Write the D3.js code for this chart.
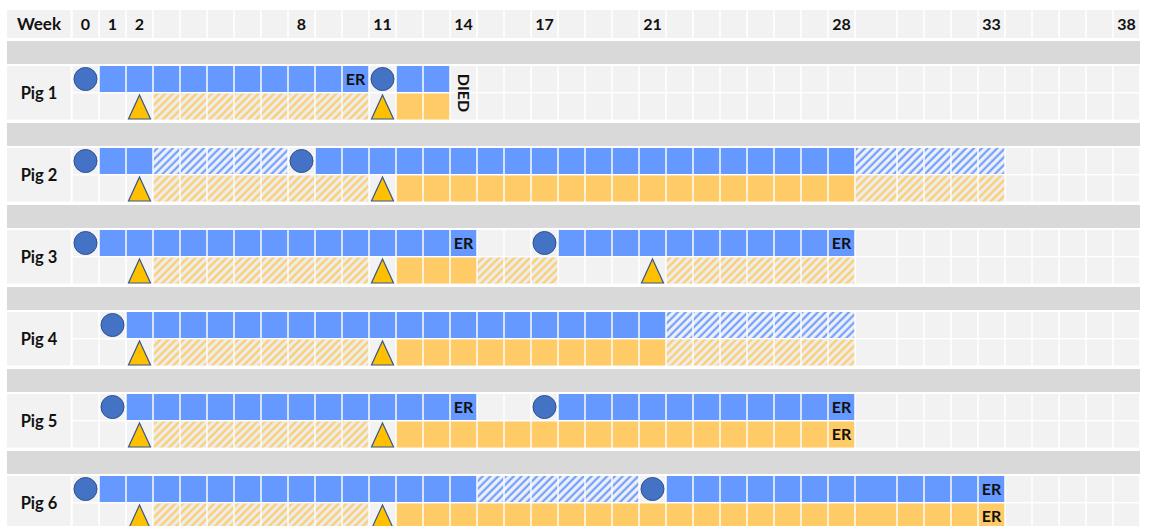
<!DOCTYPE html>
<html lang="en">
<head>
<meta charset="UTF-8">
<title>Pig timeline</title>
<script src="https://d3js.org/d3.v7.min.js"></script>
<style>
  body { margin: 0; background: #fff; }
  svg text { font-family: Lato, "Open Sans", sans-serif; font-weight: bold; fill: #111; }
</style>
</head>
<body>
<div id="chart"></div>
<script>
const pigs = ["Pig 1", "Pig 2", "Pig 3", "Pig 4", "Pig 5", "Pig 6"];
const lastWeek = 38;
const weekTicks = [0, 1, 2, 8, 11, 14, 17, 21, 28, 33, 38];

// [pig, first week, last week]
const blueSolid = [
  ["Pig 1", 1, 10], ["Pig 1", 12, 13],
  ["Pig 2", 1, 2], ["Pig 2", 9, 28],
  ["Pig 3", 1, 14], ["Pig 3", 18, 28],
  ["Pig 4", 2, 21],
  ["Pig 5", 2, 14], ["Pig 5", 18, 28],
  ["Pig 6", 1, 14], ["Pig 6", 22, 33]
];
const blueHatch = [
  ["Pig 2", 3, 7], ["Pig 2", 29, 33],
  ["Pig 4", 22, 28],
  ["Pig 6", 15, 20]
];
const orangeSolid = [
  ["Pig 1", 12, 13],
  ["Pig 2", 12, 28],
  ["Pig 3", 12, 14],
  ["Pig 4", 12, 21],
  ["Pig 5", 12, 28],
  ["Pig 6", 12, 33]
];
const orangeHatch = [
  ["Pig 1", 3, 10],
  ["Pig 2", 3, 10], ["Pig 2", 29, 33],
  ["Pig 3", 3, 10], ["Pig 3", 15, 17], ["Pig 3", 22, 28],
  ["Pig 4", 3, 10], ["Pig 4", 22, 28],
  ["Pig 5", 3, 10],
  ["Pig 6", 3, 10]
];
// [pig, week]
const circles = [
  ["Pig 1", 0], ["Pig 1", 11], ["Pig 2", 0], ["Pig 2", 8], ["Pig 3", 0], ["Pig 3", 17],
  ["Pig 4", 1], ["Pig 5", 1], ["Pig 5", 17], ["Pig 6", 0], ["Pig 6", 21]
];
const triangles = [
  ["Pig 1", 2], ["Pig 1", 11], ["Pig 2", 2], ["Pig 2", 11], ["Pig 3", 2], ["Pig 3", 11],
  ["Pig 3", 21], ["Pig 4", 2], ["Pig 4", 11], ["Pig 5", 2], ["Pig 5", 11], ["Pig 6", 2], ["Pig 6", 11]
];
// [pig, track, week]
const erLabels = [
  ["Pig 1", "top", 10], ["Pig 3", "top", 14], ["Pig 3", "top", 28], ["Pig 5", "top", 14],
  ["Pig 5", "top", 28], ["Pig 5", "bottom", 28], ["Pig 6", "top", 33], ["Pig 6", "bottom", 33]
];
const died = [["Pig 1", 14]];

const width = 1153, height = 526;
const weeks = d3.range(0, lastWeek + 1);

const svg = d3.select("#chart").append("svg")
    .attr("width", width)
    .attr("height", height);

// week 29 column is a bit wider in the original sheet
const x = d3.scaleLinear()
    .domain([0, 29, 30, lastWeek + 1])
    .range([72, 855, 897, 1140]);
const y = d3.scaleBand()
    .domain(pigs)
    .range([66, 66 + 82 * pigs.length]);
const rowH = 26;
const rowTop = (pig, track) => y(pig) + (track === "top" ? 0 : 27.5);
const cellX = w => x(w) + 0.75;
const cellW = w => x(w + 1) - x(w) - 1.5;
const mid = w => (x(w) + x(w + 1)) / 2;

// hatch patterns
const defs = svg.append("defs");
function hatch(id, bg, stroke, sw) {
    const p = defs.append("pattern")
        .attr("id", id)
        .attr("patternUnits", "userSpaceOnUse")
        .attr("width", 5.5).attr("height", 5.5)
        .attr("patternTransform", "rotate(45)");
    p.append("rect").attr("width", 5.5).attr("height", 5.5).attr("fill", bg);
    p.append("line").attr("x1", 1.5).attr("x2", 1.5).attr("y1", 0).attr("y2", 5.5)
        .attr("stroke", stroke).attr("stroke-width", sw);
}
hatch("hatchBlue", "#eef0f5", "#6699ff", 2);
hatch("hatchOrange", "#ececec", "#ffca5e", 2);

// header row
svg.append("rect").attr("x", 7).attr("y", 10).attr("width", 63.5).attr("height", 28).attr("fill", "#f2f2f2");
svg.append("text").attr("x", 39).attr("y", 24).attr("dy", "0.36em")
    .attr("text-anchor", "middle").style("font-size", "17px").text("Week");
svg.selectAll(".hcell").data(weeks).enter().append("rect")
    .attr("class", "hcell")
    .attr("x", cellX).attr("width", cellW)
    .attr("y", 10).attr("height", 28)
    .attr("fill", "#f2f2f2");
svg.selectAll(".htick").data(weekTicks).enter().append("text")
    .attr("class", "htick")
    .attr("x", mid)
    .attr("y", 24).attr("dy", "0.36em")
    .attr("text-anchor", "middle")
    .style("font-size", "16px")
    .text(d => d);

// per pig background
pigs.forEach(pig => {
    svg.append("rect")
        .attr("x", 7).attr("width", x(lastWeek + 1) - 7)
        .attr("y", y(pig) - 25).attr("height", 23)
        .attr("fill", "#d9d9d9");
    svg.append("rect")
        .attr("x", 7).attr("width", 63.5)
        .attr("y", y(pig)).attr("height", 53.5)
        .attr("fill", "#f2f2f2");
    svg.append("text")
        .attr("x", 39).attr("y", y(pig) + 27.5).attr("dy", "0.36em")
        .attr("text-anchor", "middle").style("font-size", "16.5px")
        .text(pig);
    ["top", "bottom"].forEach(track => {
        svg.append("g").selectAll("rect").data(weeks).enter().append("rect")
            .attr("x", cellX).attr("width", cellW)
            .attr("y", rowTop(pig, track)).attr("height", rowH)
            .attr("fill", "#f2f2f2");
    });
});

// coloured cells
function cells(segments, track, fill) {
    const list = [];
    segments.forEach(([pig, a, b]) => {
        d3.range(a, b + 1).forEach(w => list.push({pig, w}));
    });
    svg.append("g").selectAll("rect").data(list).enter().append("rect")
        .attr("x", d => cellX(d.w)).attr("width", d => cellW(d.w))
        .attr("y", d => rowTop(d.pig, track)).attr("height", rowH)
        .attr("fill", fill);
}
cells(blueSolid, "top", "#6699ff");
cells(blueHatch, "top", "url(#hatchBlue)");
cells(orangeSolid, "bottom", "#ffcb66");
cells(orangeHatch, "bottom", "url(#hatchOrange)");

// ER and DIED labels
svg.selectAll(".er").data(erLabels).enter().append("text")
    .attr("class", "er")
    .attr("x", d => mid(d[2]))
    .attr("y", d => rowTop(d[0], d[1]) + rowH / 2).attr("dy", "0.36em")
    .attr("text-anchor", "middle").style("font-size", "16px")
    .text("ER");
svg.selectAll(".died").data(died).enter().append("text")
    .attr("class", "died")
    .attr("transform", d => `translate(${mid(d[1])},${y(d[0]) + 27}) rotate(90)`)
    .attr("dy", "0.36em")
    .attr("text-anchor", "middle").style("font-size", "16px")
    .text("DIED");

// markers
svg.selectAll(".start").data(circles).enter().append("circle")
    .attr("class", "start")
    .attr("cx", d => mid(d[1]))
    .attr("cy", d => rowTop(d[0], "top") + rowH / 2)
    .attr("r", 11.5)
    .attr("fill", "#4472c4")
    .attr("stroke", "#2f528f").attr("stroke-width", 1);
svg.selectAll(".tri").data(triangles).enter().append("path")
    .attr("class", "tri")
    .attr("d", d => {
        const cx = mid(d[1]);
        const top = rowTop(d[0], "bottom");
        return `M${cx},${top + 1.5}L${cx + 11},${top + 25.5}L${cx - 11},${top + 25.5}Z`;
    })
    .attr("fill", "#ffc000")
    .attr("stroke", "#3b5784").attr("stroke-width", 1.2);
</script>
</body>
</html>
